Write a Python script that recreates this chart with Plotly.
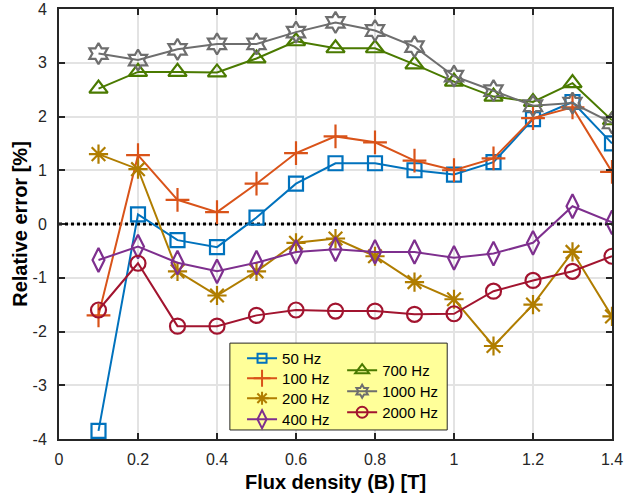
import plotly.graph_objects as go

B = [0.1, 0.2, 0.3, 0.4, 0.5, 0.6, 0.7, 0.8, 0.9, 1.0, 1.1, 1.2, 1.3, 1.4]

e50 = [-3.85, 0.18, -0.30, -0.43, 0.12, 0.75, 1.13, 1.13, 1.00, 0.92, 1.15, 1.95, 2.27, 1.50]
e100 = [-1.70, 1.28, 0.45, 0.22, 0.75, 1.32, 1.63, 1.52, 1.18, 1.00, 1.22, 1.97, 2.17, 0.97]
e200 = [1.30, 1.02, -0.88, -1.33, -0.88, -0.35, -0.27, -0.60, -1.08, -1.40, -2.27, -1.50, -0.52, -1.72]
e400 = [-0.67, -0.42, -0.72, -0.88, -0.72, -0.52, -0.47, -0.52, -0.52, -0.63, -0.55, -0.35, 0.33, 0.03]
e700 = [2.52, 2.83, 2.83, 2.82, 3.08, 3.40, 3.27, 3.27, 2.97, 2.65, 2.37, 2.27, 2.62, 1.93]
e1000 = [3.17, 3.05, 3.25, 3.35, 3.35, 3.57, 3.75, 3.60, 3.30, 2.75, 2.48, 2.20, 2.25, 1.88]
e2000 = [-1.60, -0.73, -1.90, -1.90, -1.70, -1.60, -1.62, -1.62, -1.68, -1.67, -1.25, -1.05, -0.88, -0.60]

x_ticks = [0, 0.2, 0.4, 0.6, 0.8, 1.0, 1.2, 1.4]
x_ticklabels = ["0", "0.2", "0.4", "0.6", "0.8", "1", "1.2", "1.4"]
y_ticks = [-4, -3, -2, -1, 0, 1, 2, 3, 4]
y_ticklabels = ["-4", "-3", "-2", "-1", "0", "1", "2", "3", "4"]

series = [
    ("50 Hz", e50, "#0072BD", "square-open"),
    ("100 Hz", e100, "#D95319", "cross-thin-open"),
    ("200 Hz", e200, "#B07D00", "asterisk-open"),
    ("400 Hz", e400, "#7E2F8E", "diamond-tall-open"),
    ("700 Hz", e700, "#4A7A00", "triangle-up-open"),
    ("1000 Hz", e1000, "#6E6E6E", "hexagram-open"),
    ("2000 Hz", e2000, "#A2142F", "circle-open"),
]

# legend layout: (x paper, top y in px) for each entry, two columns as in the reference
PLOT_TOP, PLOT_BOTTOM = 9, 439
leg_pos = [(0.331, 342), (0.331, 362), (0.331, 382), (0.331, 403),
           (0.512, 354), (0.512, 375), (0.512, 396)]

plot_size = {"square-open": 14, "cross-thin-open": 17, "asterisk-open": 16,
             "diamond-tall-open": 17, "triangle-up-open": 16, "hexagram-open": 16,
             "circle-open": 15}
leg_size = {"square-open": 9, "cross-thin-open": 12, "asterisk-open": 11,
            "diamond-tall-open": 13, "triangle-up-open": 12, "hexagram-open": 10,
            "circle-open": 11}

fig = go.Figure()

fig.add_trace(go.Scatter(x=[0, 1.4], y=[0, 0], mode="lines",
                         line=dict(color="black", width=3, dash="dot"),
                         showlegend=False, hoverinfo="skip"))

for i, (name, ys, col, sym) in enumerate(series):
    fig.add_trace(go.Scatter(
        x=B, y=ys, mode="lines+markers", name=name, showlegend=False,
        line=dict(color=col, width=2),
        marker=dict(symbol=sym, size=plot_size[sym], color=col, line=dict(color=col, width=2.2)),
    ))
    lg = "legend" if i == 0 else f"legend{i + 1}"
    fig.add_trace(go.Scatter(
        x=[None], y=[None], mode="lines+markers", name=name, legend=lg,
        line=dict(color=col, width=2),
        marker=dict(symbol=sym, size=leg_size[sym], color=col, line=dict(color=col, width=2)),
    ))

FONT = "Liberation Sans, Arial"
axis_common = dict(
    showline=True, mirror="ticks", linecolor="#262626", linewidth=2,
    ticks="inside", ticklen=6, tickwidth=2, tickcolor="#262626",
    showgrid=True, gridcolor="#E3E3E3", gridwidth=1.5, automargin=False,
    zeroline=False, tickfont=dict(family=FONT, size=16, color="#262626"),
)

fig.update_xaxes(range=[0, 1.4], tickvals=x_ticks, ticktext=x_ticklabels,
                 ticklabelstandoff=5,
                 title=dict(text="<b>Flux density (B) [T]</b>", standoff=8,
                            font=dict(family=FONT, size=20, color="#000000")),
                 **axis_common)
fig.update_yaxes(range=[-4, 4], tickvals=y_ticks, ticktext=y_ticklabels,
                 ticklabelstandoff=7,
                 title=dict(text="<b>Relative error [%]</b>", standoff=0,
                            font=dict(family=FONT, size=20, color="#000000")),
                 **axis_common)

fig.add_shape(type="rect", xref="paper", yref="paper", x0=0.309, x1=0.702, y0=0.021, y1=0.223,
              fillcolor="#FFFF99", line=dict(color="#262626", width=1), layer="above")

legend_common = dict(bgcolor="rgba(0,0,0,0)", borderwidth=0,
                     font=dict(family=FONT, size=15, color="#000000"),
                     xanchor="left", yanchor="top", tracegroupgap=0, itemwidth=30)

legends = {}
for i, (lx, top) in enumerate(leg_pos):
    key = "legend" if i == 0 else f"legend{i + 1}"
    legends[key] = dict(x=lx, y=(PLOT_BOTTOM - top) / (PLOT_BOTTOM - PLOT_TOP), **legend_common)

fig.update_layout(
    width=624, height=499,
    margin=dict(l=59, r=12, t=PLOT_TOP, b=499 - PLOT_BOTTOM),
    paper_bgcolor="white", plot_bgcolor="white",
    **legends,
)

fig.write_html("out.html", config={"displayModeBar": False},
               post_script="document.body.style.margin='0';")
